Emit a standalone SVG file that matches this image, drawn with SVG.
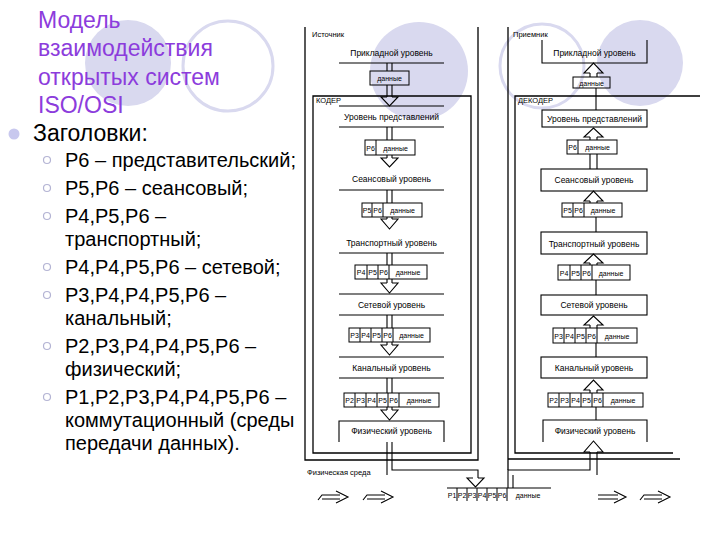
<svg xmlns="http://www.w3.org/2000/svg" width="720" height="540" viewBox="0 0 720 540">
<defs>
<style>
.ln{fill:none;stroke:#000;stroke-width:1.1}
.fr{fill:none;stroke:#000;stroke-width:1.3}
.pk{fill:none;stroke:#000;stroke-width:1}
.t{font-family:"Liberation Sans",Arial,sans-serif;font-size:8.5px;fill:#000;text-anchor:middle}
.p{font-family:"Liberation Sans",Arial,sans-serif;font-size:7px;fill:#000;text-anchor:middle}
.lb{font-family:"Liberation Sans",Arial,sans-serif;font-size:7.5px;fill:#000}
.title{font-family:"Liberation Sans",Arial,sans-serif;font-size:23px;fill:#8c3cdc}
.h{font-family:"Liberation Sans",Arial,sans-serif;font-size:23px;fill:#000}
.s{font-family:"Liberation Sans",Arial,sans-serif;font-size:20px;fill:#000}
.dc{fill:#d9d9ef}
.oc{fill:none;stroke:#d9d9ef;stroke-width:3}
.sb{fill:#fff;stroke:#b4b4d4;stroke-width:1.2}
</style>
</defs>
<rect width="720" height="540" fill="#fff"/>

<g id="decor">
<circle class="dc" cx="128" cy="63" r="43"/>
<circle class="oc" cx="228" cy="66" r="45"/>
<circle class="dc" cx="419" cy="71" r="49"/>
<circle class="oc" cx="542" cy="66" r="42"/>
<circle class="dc" cx="640" cy="63" r="43"/>
</g>

<g id="title">
<text class="title" x="38" y="28">Модель</text>
<text class="title" x="38" y="56">взаимодействия</text>
<text class="title" x="38" y="85">открытых систем</text>
<text class="title" x="38" y="113">ISO/OSI</text>
</g>

<g id="bullets">
<circle cx="14" cy="134" r="5.5" fill="#c8c8ee"/>
<text class="h" x="33" y="141">Заголовки:</text>
<circle class="sb" cx="47" cy="160" r="3.5"/>
<text class="s" x="65" y="167">Р6 – представительский;</text>
<circle class="sb" cx="47" cy="188" r="3.5"/>
<text class="s" x="65" y="195">Р5,Р6 – сеансовый;</text>
<circle class="sb" cx="47" cy="216" r="3.5"/>
<text class="s" x="65" y="223">Р4,Р5,Р6 –</text>
<text class="s" x="65" y="246">транспортный;</text>
<circle class="sb" cx="47" cy="267" r="3.5"/>
<text class="s" x="65" y="274">Р4,Р4,Р5,Р6 – сетевой;</text>
<circle class="sb" cx="47" cy="295" r="3.5"/>
<text class="s" x="65" y="302">Р3,Р4,Р4,Р5,Р6 –</text>
<text class="s" x="65" y="325">канальный;</text>
<circle class="sb" cx="47" cy="346" r="3.5"/>
<text class="s" x="65" y="353">Р2,Р3,Р4,Р4,Р5,Р6 –</text>
<text class="s" x="65" y="376">физический;</text>
<circle class="sb" cx="47" cy="397" r="3.5"/>
<text class="s" x="65" y="404">Р1,Р2,Р3,Р4,Р4,Р5,Р6 –</text>
<text class="s" x="65" y="427">коммутационный (среды</text>
<text class="s" x="65" y="450">передачи данных).</text>
</g>

<g id="source-frame">
<path class="fr" d="M305,27 V460 H478 V27"/>
<path class="fr" d="M313,96 H471 V453 H313 Z"/>
<text class="lb" x="312" y="37">Источник</text>
<text class="lb" x="316" y="103">КОДЕР</text>
</g>

<g id="src-app">
<line class="ln" x1="339" y1="63" x2="444" y2="63"/>
<text class="t" x="391.5" y="56">Прикладной уровень</text>
</g>
<g id="src-pres">
<line class="ln" x1="339" y1="106" x2="444" y2="106"/>
<line class="ln" x1="339" y1="127" x2="444" y2="127"/>
<text class="t" x="391.5" y="120">Уровень представлений</text>
</g>
<g id="src-sess">
<line class="ln" x1="339" y1="190" x2="444" y2="190"/>
<text class="t" x="391.5" y="182">Сеансовый уровень</text>
</g>
<g id="src-trans">
<line class="ln" x1="339" y1="253" x2="444" y2="253"/>
<text class="t" x="391.5" y="246">Транспортный уровень</text>
</g>
<g id="src-net">
<line class="ln" x1="339" y1="294" x2="444" y2="294"/>
<line class="ln" x1="339" y1="315" x2="444" y2="315"/>
<text class="t" x="391.5" y="308">Сетевой уровень</text>
</g>
<g id="src-link">
<line class="ln" x1="339" y1="357" x2="444" y2="357"/>
<line class="ln" x1="339" y1="378" x2="444" y2="378"/>
<text class="t" x="391.5" y="371">Канальный уровень</text>
</g>
<g id="src-phys">
<path class="ln" d="M339,442 V421 H444 V442"/>
<text class="t" x="391.5" y="434">Физический уровень</text>
</g>

<g id="src-packets">
<rect class="pk" x="370" y="71" width="39" height="14"/>
<text class="p" x="389.5" y="81">данные</text>

<rect class="pk" x="365" y="140" width="50" height="15"/>
<line class="pk" x1="376" y1="140" x2="376" y2="155"/>
<text class="p" x="370.5" y="150.5">Р6</text><text class="p" x="395.5" y="150.5">данные</text>

<rect class="pk" x="362" y="203" width="60" height="14"/>
<path class="pk" d="M372,203 V217 M383,203 V217"/>
<text class="p" x="367" y="213">Р5</text><text class="p" x="377.5" y="213">Р6</text><text class="p" x="402.5" y="213">данные</text>

<rect class="pk" x="355" y="265" width="72" height="14"/>
<path class="pk" d="M367,265 V279 M378,265 V279 M389,265 V279"/>
<text class="p" x="361" y="275">Р4</text><text class="p" x="372.5" y="275">Р5</text><text class="p" x="383.5" y="275">Р6</text><text class="p" x="408" y="275">данные</text>

<rect class="pk" x="349" y="328" width="81" height="14"/>
<path class="pk" d="M360,328 V342 M371,328 V342 M382,328 V342 M393,328 V342"/>
<text class="p" x="354.5" y="338">Р3</text><text class="p" x="365.5" y="338">Р4</text><text class="p" x="376.5" y="338">Р5</text><text class="p" x="387.5" y="338">Р6</text><text class="p" x="411.5" y="338">данные</text>

<rect class="pk" x="344" y="393" width="95" height="14"/>
<path class="pk" d="M355,393 V407 M366,393 V407 M377,393 V407 M388,393 V407 M399,393 V407"/>
<text class="p" x="349.5" y="403">Р2</text><text class="p" x="360.5" y="403">Р3</text><text class="p" x="371.5" y="403">Р4</text><text class="p" x="382.5" y="403">Р5</text><text class="p" x="393.5" y="403">Р6</text><text class="p" x="419" y="403">данные</text>
</g>

<g id="receiver-frame">
<path class="fr" d="M508,27 V470"/>
<path class="fr" d="M508,459 H680"/>
<path class="fr" d="M700,96 H515 V453 H673"/>
<text class="lb" x="513" y="37">Приемник</text>
<text class="lb" x="518" y="103">ДЕКОДЕР</text>
</g>

<g id="rcv-app">
<path class="ln" d="M542,40 V63 H647 V40"/>
<text class="t" x="594.5" y="56">Прикладной уровень</text>
</g>
<g id="rcv-pres">
<rect class="ln" x="542" y="110" width="105" height="17"/>
<text class="t" x="594.5" y="121.5">Уровень представлений</text>
</g>
<g id="rcv-sess">
<rect class="ln" x="541" y="169" width="106" height="22"/>
<text class="t" x="594" y="183">Сеансовый уровень</text>
</g>
<g id="rcv-trans">
<rect class="ln" x="541" y="232" width="106" height="22"/>
<text class="t" x="594" y="246.5">Транспортный уровень</text>
</g>
<g id="rcv-net">
<rect class="ln" x="541" y="295" width="106" height="20"/>
<text class="t" x="594" y="308">Сетевой уровень</text>
</g>
<g id="rcv-link">
<rect class="ln" x="541" y="357" width="106" height="21"/>
<text class="t" x="594" y="370.5">Канальный уровень</text>
</g>
<g id="rcv-phys">
<path class="ln" d="M543,442 V420 H647 V442"/>
<text class="t" x="595" y="434">Физический уровень</text>
</g>

<g id="rcv-packets">
<rect class="pk" x="573" y="77" width="37" height="11"/>
<text class="p" x="591.5" y="85.5">данные</text>

<rect class="pk" x="567" y="140" width="50" height="14"/>
<line class="pk" x1="578" y1="140" x2="578" y2="154"/>
<text class="p" x="572.5" y="150">Р6</text><text class="p" x="597.5" y="150">данные</text>

<rect class="pk" x="562" y="203" width="60" height="14"/>
<path class="pk" d="M573,203 V217 M584,203 V217"/>
<text class="p" x="567.5" y="213">Р5</text><text class="p" x="578.5" y="213">Р6</text><text class="p" x="603" y="213">данные</text>

<rect class="pk" x="558" y="265" width="72" height="15"/>
<path class="pk" d="M570,265 V280 M581,265 V280 M592,265 V280"/>
<text class="p" x="564" y="275.5">Р4</text><text class="p" x="575.5" y="275.5">Р5</text><text class="p" x="586.5" y="275.5">Р6</text><text class="p" x="611" y="275.5">данные</text>

<rect class="pk" x="553" y="328" width="84" height="15"/>
<path class="pk" d="M564,328 V343 M575,328 V343 M586,328 V343 M597,328 V343"/>
<text class="p" x="558.5" y="338.5">Р3</text><text class="p" x="569.5" y="338.5">Р4</text><text class="p" x="580.5" y="338.5">Р5</text><text class="p" x="591.5" y="338.5">Р6</text><text class="p" x="617" y="338.5">данные</text>

<rect class="pk" x="548" y="393" width="95" height="14"/>
<path class="pk" d="M559,393 V407 M570,393 V407 M581,393 V407 M592,393 V407 M603,393 V407"/>
<text class="p" x="553.5" y="403">Р2</text><text class="p" x="564.5" y="403">Р3</text><text class="p" x="575.5" y="403">Р4</text><text class="p" x="586.5" y="403">Р5</text><text class="p" x="597.5" y="403">Р6</text><text class="p" x="623" y="403">данные</text>
</g>

<g id="medium">
<line class="ln" x1="447" y1="488" x2="551" y2="488"/>
<path class="pk" d="M457,488 V501 M467,488 V501 M477,488 V501 M487,488 V501 M497,488 V501 M507,488 V501"/>
<text class="p" x="452" y="498">Р1</text><text class="p" x="462" y="498">Р2</text><text class="p" x="472" y="498">Р3</text><text class="p" x="482" y="498">Р4</text><text class="p" x="492" y="498">Р5</text><text class="p" x="502" y="498">Р6</text><text class="p" x="528" y="498">данные</text>
<text class="lb" x="307" y="475">Физическая среда</text>
</g>

<g id="connectors">
<!-- source: double shafts -->
<path class="ln" d="M387,63 V71 M392,63 V71 M387,85 V97 M392,85 V97"/>
<path class="ln" d="M387,127 V140 M392,127 V140 M387,155 V158 M392,155 V158"/>
<path class="ln" d="M387,190 V203 M392,190 V203 M387,217 V219 M392,217 V219"/>
<path class="ln" d="M387,253 V265 M392,253 V265 M387,279 V283 M392,279 V283"/>
<path class="ln" d="M387,315 V328 M392,315 V328 M387,342 V345 M392,342 V345"/>
<path class="ln" d="M387,378 V393 M392,378 V393 M387,407 V410 M392,407 V410"/>
<!-- source: down arrowheads -->
<path class="ln" d="M387,97 H381 L389.5,106 L398,97 H392"/>
<path class="ln" d="M387,158 H381 L389.5,167 L398,158 H392"/>
<path class="ln" d="M387,219 H381 L389.5,229 L398,219 H392"/>
<path class="ln" d="M387,283 H381 L389.5,293 L398,283 H392"/>
<path class="ln" d="M387,345 H381 L389.5,355 L398,345 H392"/>
<path class="ln" d="M387,410 H381 L389.5,420 L398,410 H392"/>
<!-- source to medium -->
<path class="ln" d="M387,442 V475"/>
<path class="ln" d="M392,442 V470 H478 V478"/>
<path class="ln" d="M473,478 H467 L475.5,487 L484,478 H478"/>
<!-- receiver: up arrowheads and shafts -->
<path class="ln" d="M590,73 H584 L593.5,63 L603,73 H597 M590,73 V77 M597,73 V77"/>
<path class="ln" d="M590,137 H584 L593.5,128 L603,137 H597 M590,137 V140 M597,137 V140"/>
<path class="ln" d="M590,201 H584 L593.5,191 L603,201 H597 M590,201 V203 M597,201 V203"/>
<path class="ln" d="M590,263 H584 L593.5,254 L603,263 H597 M590,263 V265 M597,263 V265"/>
<path class="ln" d="M590,325 H584 L593.5,316 L603,325 H597 M590,325 V328 M597,325 V328"/>
<path class="ln" d="M590,390 H584 L593.5,380 L603,390 H597 M590,390 V393 M597,390 V393"/>
<path class="ln" d="M590,452 H584 L593.5,441 L603,452 H597"/>
<!-- receiver: links from packets to next layer -->
<path class="ln" d="M596,88 V110"/>
<path class="ln" d="M590,154 V169 M597,154 V169"/>
<path class="ln" d="M596,217 V232"/>
<path class="ln" d="M596,280 V295"/>
<path class="ln" d="M596,343 V357"/>
<path class="ln" d="M596,407 V420"/>
<!-- medium to receiver -->
<path class="ln" d="M508,488 V470 H590 V452"/>
<path class="ln" d="M513,488 V475"/>
<path class="ln" d="M597,452 V475"/>
</g>

<g id="flow-arrows">
<path class="ln" d="M318,500 L322,495 H340 M322,499 H340 M336,491 L348,497 L336,503"/>
<path class="ln" d="M363,500 L367,495 H385 M367,499 H385 M381,491 L393,497 L381,503"/>
<path class="ln" d="M598,495 H618 M598,499 H618 M614,491 L626,497 L614,503"/>
<path class="ln" d="M640,500 L644,495 H662 M644,499 H662 M658,491 L670,497 L658,503"/>
</g>
</svg>
